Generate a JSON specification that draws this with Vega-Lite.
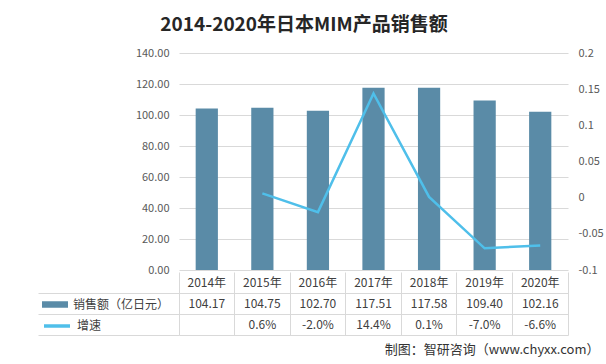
{
  "$schema": "https://vega.github.io/schema/vega-lite/v6.json",
  "background": "white",
  "padding": {"left": 37, "top": 16, "right": 6, "bottom": 4},
  "title": {
    "text": "2014-2020年日本MIM产品销售额",
    "anchor": "start",
    "align": "center",
    "frame": "group",
    "dx": 125,
    "offset": 12,
    "fontSize": 19,
    "fontWeight": "bold",
    "color": "#262626",
    "font": "Noto Sans CJK SC"
  },
  "datasets": {
    "main": [
      {"year": "2014年", "sales": 104.17, "growth": null},
      {"year": "2015年", "sales": 104.75, "growth": 0.006},
      {"year": "2016年", "sales": 102.70, "growth": -0.020},
      {"year": "2017年", "sales": 117.51, "growth": 0.144},
      {"year": "2018年", "sales": 117.58, "growth": 0.001},
      {"year": "2019年", "sales": 109.40, "growth": -0.070},
      {"year": "2020年", "sales": 102.16, "growth": -0.066}
    ]
  },
  "spacing": 2,
  "bounds": "flush",
  "vconcat": [
    {
      "width": 389,
      "height": 217,
      "data": {"name": "main"},
      "encoding": {
        "x": {
          "field": "year",
          "type": "nominal",
          "sort": null,
          "scale": {"type": "band", "paddingInner": 0.6, "paddingOuter": 0.3},
          "axis": null
        }
      },
      "layer": [
        {
          "mark": {"type": "bar"},
          "encoding": {
            "y": {
              "field": "sales",
              "type": "quantitative",
              "scale": {"domain": [0, 140], "nice": false, "zero": true},
              "axis": {
                "orient": "left",
                "values": [0, 20, 40, 60, 80, 100, 120, 140],
                "format": ".2f",
                "domain": false,
                "ticks": false,
                "grid": true,
                "gridColor": "#d9d9d9",
                "labelPadding": 10,
                "title": null
              }
            },
            "color": {
              "datum": "销售额（亿日元）",
              "type": "nominal",
              "scale": {"range": ["#5A8BA7"]},
              "legend": {
                "orient": "none",
                "legendX": -137,
                "legendY": 238.5,
                "title": null,
                "padding": 0,
                "symbolType": "M-1,-0.25L1,-0.25L1,0.25L-1,0.25Z",
                "symbolSize": 676,
                "symbolStrokeWidth": 0,
                "labelFont": "Noto Sans CJK SC",
                "labelFontSize": 12,
                "labelColor": "#404040",
                "labelOffset": 5
              }
            }
          }
        },
        {
          "transform": [{"filter": "datum.growth != null"}],
          "mark": {"type": "line", "strokeWidth": 2.5},
          "encoding": {
            "y": {
              "field": "growth",
              "type": "quantitative",
              "scale": {"domain": [-0.1, 0.2], "nice": false, "zero": false},
              "axis": {
                "orient": "right",
                "values": [-0.1, -0.05, 0, 0.05, 0.1, 0.15, 0.2],
                "format": ".2~f",
                "domain": false,
                "ticks": false,
                "grid": false,
                "labelPadding": 10,
                "title": null
              }
            },
            "stroke": {
              "datum": "增速",
              "type": "nominal",
              "scale": {"range": ["#4FBFEA"]},
              "legend": {
                "orient": "none",
                "legendX": -137,
                "legendY": 258,
                "title": null,
                "padding": 0,
                "symbolType": "stroke",
                "symbolSize": 676,
                "symbolStrokeWidth": 3.5,
                "labelFont": "Noto Sans CJK SC",
                "labelFontSize": 12,
                "labelColor": "#404040",
                "labelOffset": 5
              }
            }
          }
        }
      ],
      "resolve": {"scale": {"y": "independent"}}
    },
    {
      "width": 389,
      "height": 63,
      "data": {"name": "main"},
      "encoding": {
        "x": {
          "field": "year",
          "type": "nominal",
          "sort": null,
          "scale": {"type": "band", "paddingInner": 0, "paddingOuter": 0},
          "axis": {
            "orient": "bottom",
            "labels": false,
            "ticks": false,
            "domain": false,
            "grid": true,
            "gridColor": "#d9d9d9",
            "bandPosition": 1,
            "tickExtra": true,
            "title": "制图：智研咨询（www.chyxx.com）",
            "titleAnchor": "end",
            "titleAlign": "right",
            "titleX": 420,
            "titleY": 14,
            "titleBaseline": "middle",
            "titleFont": "Noto Sans CJK SC",
            "titleFontSize": 13,
            "titleFontWeight": "normal",
            "titleColor": "#333333"
          }
        }
      },
      "layer": [
        {
          "mark": {"type": "text"},
          "encoding": {
            "y": {
              "datum": "year",
              "type": "nominal",
              "scale": {"type": "band", "domain": ["year", "sales", "growth"], "paddingInner": 0, "paddingOuter": 0},
              "axis": {
                "orient": "left",
                "labels": false,
                "domain": false,
                "grid": true,
                "gridColor": "#d9d9d9",
                "ticks": true,
                "tickSize": 141,
                "tickColor": "#d9d9d9",
                "bandPosition": 1,
                "tickExtra": false,
                "title": null
              }
            },
            "text": {"field": "year", "type": "nominal"}
          }
        },
        {
          "mark": {"type": "text"},
          "encoding": {
            "y": {"datum": "sales", "type": "nominal"},
            "text": {"field": "sales", "type": "quantitative", "format": ".2f"}
          }
        },
        {
          "transform": [{"filter": "datum.growth != null"}],
          "mark": {"type": "text"},
          "encoding": {
            "y": {"datum": "growth", "type": "nominal"},
            "text": {"field": "growth", "type": "quantitative", "format": ".1%"}
          }
        }
      ]
    }
  ],
  "config": {
    "view": {"stroke": null},
    "font": "Noto Sans CJK SC",
    "axis": {"labelFont": "Noto Sans CJK SC", "labelFontSize": 11, "labelColor": "#595959"},
    "text": {"font": "Noto Sans CJK SC", "fontSize": 12, "color": "#404040"},
    "locale": {
      "number": {"decimal": ".", "thousands": ",", "grouping": [3], "currency": ["", ""], "minus": "-"}
    }
  }
}
